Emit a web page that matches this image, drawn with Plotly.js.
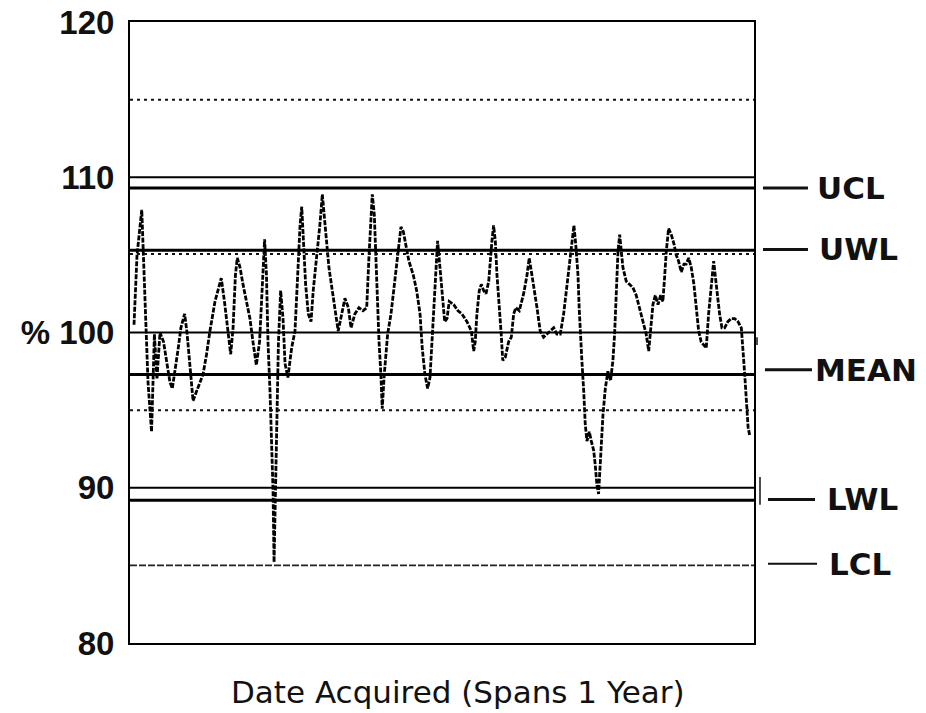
<!DOCTYPE html>
<html>
<head>
<meta charset="utf-8">
<script src="https://cdn.plot.ly/plotly-3.0.1.min.js"></script>
<style>html,body{margin:0;padding:0;background:#fff;}#chart{width:926px;height:713px;}</style>
</head>
<body>
<div id="chart"></div>
<script>
// Day of acquisition (spans ~1 year) and measured recovery (%)
const days = [0,1.8,4.6,5.6,6.8,8.3,10.4,12.1,13.6,15.4,17.5,19.6,21.3,22.7,24.3,26.1,27.8,30.0,31.4,33.2,35.0,36.7,39.1,40.9,43.0,45.0,48.0,50.4,51.7,53.6,55.7,57.3,58.7,60.1,61.2,62.8,64.6,66.7,68.7,70.5,72.5,74.4,76.4,77.4,78.5,79.4,80.6,81.5,82.4,83.0,83.8,84.7,85.6,86.9,88.3,89.5,91.2,93.4,95.4,97.0,98.4,99.4,100.3,101.7,103.3,104.9,106.2,108.3,110.2,111.6,112.8,114.2,115.5,117.5,119.5,121.0,123.1,125.0,127.0,128.6,130.9,133.3,135.7,137.9,139.2,140.4,141.2,142.4,143.2,144.4,145.2,146.3,147.1,148.3,150.3,152.3,154.2,156.6,158.2,159.6,161.0,162.9,165.5,167.5,169.5,170.8,172.4,174.0,175.4,177.3,178.8,179.9,181.3,182.7,184.1,185.5,186.8,189.4,192.0,194.3,197.3,199.9,201.3,202.2,203.2,204.6,205.8,207.2,208.6,210.2,211.1,212.1,213.1,214.1,215.1,216.1,217.0,217.6,218.5,220.0,222.0,223.6,225.0,226.3,228.3,230.9,232.9,234.2,235.8,237.4,238.8,240.7,242.7,244.7,246.7,248.7,250.6,252.6,254.6,256.6,258.5,259.9,260.7,261.9,263.1,263.8,264.4,265.4,266.5,267.4,268.4,269.8,271.0,272.4,273.3,274.3,275.3,276.5,277.9,279.3,280.8,282.4,283.8,284.8,285.8,286.8,287.8,288.7,289.7,291.7,293.7,295.6,297.6,299.6,301.6,303.5,305.0,306.2,307.5,308.9,310.5,312.1,313.4,314.4,315.4,316.8,318.4,320.0,321.3,322.7,324.3,325.9,327.2,328.7,330.2,331.8,333.2,334.6,336.1,337.7,339.1,340.5,342.0,343.5,344.4,345.6,347.0,348.4,350.0,351.9,353.9,355.9,357.9,359.9,360.9,361.9,362.9,363.9,364.8];
const pct = [100.5,105.0,107.9,105.0,100.3,96.8,93.6,99.9,97.0,100.0,99.4,97.8,96.8,96.4,97.5,98.9,100.3,101.2,100.0,97.5,95.6,96.1,96.8,97.3,98.6,100.1,102.0,103.1,103.5,102.0,100.1,98.6,100.3,103.7,104.8,104.2,103.1,102.0,100.9,99.4,97.9,99.4,103.7,106.0,103.7,99.4,96.2,93.0,89.8,85.2,90.0,95.0,99.4,102.7,100.9,98.0,97.1,99.0,100.1,103.7,106.9,108.1,105.9,103.1,101.2,100.7,102.7,104.8,107.0,108.9,107.6,105.9,104.2,102.7,101.2,100.1,101.2,102.2,101.6,100.3,101.2,101.6,101.4,101.6,104.8,107.6,108.9,107.6,105.2,101.6,99.4,97.3,95.1,97.3,99.9,101.2,103.1,105.2,106.8,106.5,105.7,104.6,103.7,102.7,101.2,99.0,97.3,96.4,97.1,100.5,103.7,105.9,104.2,102.4,100.7,100.9,102.0,101.8,101.4,101.2,100.7,100.1,98.8,99.4,101.2,102.7,103.1,102.7,102.5,103.3,104.8,105.9,106.9,105.9,103.7,102.2,101.2,99.9,98.2,98.4,99.4,99.7,101.2,101.6,101.4,102.5,103.7,104.8,103.7,102.7,101.6,100.1,99.7,99.9,100.1,100.3,99.9,99.9,101.2,103.1,104.8,106.5,106.9,105.5,103.7,101.6,99.9,98.2,96.2,94.1,93.0,93.6,93.0,92.4,91.5,90.2,89.6,91.9,94.7,96.4,97.5,96.9,98.2,99.9,102.7,105.2,106.3,105.2,104.2,103.3,103.1,102.9,102.4,101.6,100.7,99.9,98.8,100.3,101.8,102.4,101.8,102.4,102.0,103.5,105.2,106.7,106.3,105.7,105.0,104.6,103.9,104.4,104.4,104.8,104.2,103.1,101.6,100.1,99.4,99.2,99.0,101.2,103.1,104.6,103.7,102.5,101.2,100.3,100.3,100.7,100.9,100.9,100.7,100.3,99.0,97.3,95.6,93.9,93.4];

const gridLevels = [90, 100, 110];
const dottedLevels = [115, 105.05, 95];
const limitNames = ['UCL', 'UWL', 'MEAN', 'LWL', 'LCL'];
const limitValues = [109.3, 105.3, 97.3, 89.2, 85.0];
const yTickVals = [80, 90, 100, 110, 120];
const yTickText = ['80', '90', '% 100', '110', '120'];
const xTitle = 'Date Acquired (Spans 1 Year)';

const shapes = [];
gridLevels.forEach(v => shapes.push({type:'line', xref:'paper', yref:'y', x0:0, x1:1, y0:v, y1:v, line:{color:'#000', width:2}}));
dottedLevels.forEach(v => shapes.push({type:'line', xref:'paper', yref:'y', x0:0, x1:1, y0:v, y1:v, line:{color:'#111', width:2, dash:'3px,4px'}}));
limitValues.forEach((v, i) => {
  const isLCL = limitNames[i] === 'LCL';
  shapes.push({type:'line', xref:'paper', yref:'y', x0:0, x1:1, y0:v, y1:v,
    line: isLCL ? {color:'#222', width:1.6, dash:'7px,2px'} : {color:'#000', width:3}});
});

// label positions to the right of the plot (paper x)
const labelPos = {
  UCL:  {y:109.3, x0:1.0144, x1:1.0865, tx:1.0978},
  UWL:  {y:105.35, x0:1.0144, x1:1.0865, tx:1.1010},
  MEAN: {y:97.6, x0:1.0176, x1:1.0929, tx:1.0945},
  LWL:  {y:89.25, x0:1.0224, x1:1.0978, tx:1.1140},
  LCL:  {y:85.1, x0:1.0224, x1:1.1010, tx:1.1170}
};
const annotations = [];
limitNames.forEach(n => {
  const p = labelPos[n];
  shapes.push({type:'line', xref:'paper', yref:'y', x0:p.x0, x1:p.x1, y0:p.y, y1:p.y,
    line:{color:'#111', width: n === 'LCL' ? 2 : 3}});
  annotations.push({xref:'paper', yref:'y', x:p.tx, y:p.y, xanchor:'left', yanchor:'middle',
    text:n, showarrow:false, font:{family:'DejaVu Sans', size:31, weight:700, color:'#111'}});
});
// small marks at right edge
shapes.push({type:'line', xref:'paper', yref:'y', x0:1.0048, x1:1.0048, y0:99.7, y1:99.2, line:{color:'#111', width:1.5}});
shapes.push({type:'line', xref:'paper', yref:'y', x0:1.0096, x1:1.0096, y0:90.7, y1:88.9, line:{color:'#111', width:1.5}});

annotations.push({xref:'paper', yref:'paper', x:0.5256, y:-0.079, xanchor:'center', yanchor:'middle',
  text:xTitle, showarrow:false, font:{family:'DejaVu Sans', size:31, color:'#111'}});

const trace = {
  x: days, y: pct, type:'scatter', mode:'lines',
  line:{color:'#000', width:2.8, dash:'5px,1.5px'},
  hoverinfo:'x+y', showlegend:false
};

const layout = {
  width:926, height:713,
  margin:{l:130, r:172, t:22, b:70, pad:0},
  paper_bgcolor:'#fff', plot_bgcolor:'#fff',
  showlegend:false,
  xaxis:{range:[-2.37, 367.4], showline:true, mirror:true, linecolor:'#000', linewidth:2,
    showticklabels:false, ticks:'', showgrid:false, zeroline:false},
  yaxis:{range:[80, 120], tickvals:yTickVals, ticktext:yTickText, showline:true, mirror:true,
    linecolor:'#000', linewidth:2, ticks:'', showgrid:false, zeroline:false, ticklabelstandoff:7,
    tickfont:{family:'Liberation Sans', size:33, weight:700, color:'#111'}},
  shapes:shapes,
  annotations:annotations
};

Plotly.newPlot('chart', [trace], layout, {displayModeBar:false, staticPlot:true});
</script>
</body>
</html>
